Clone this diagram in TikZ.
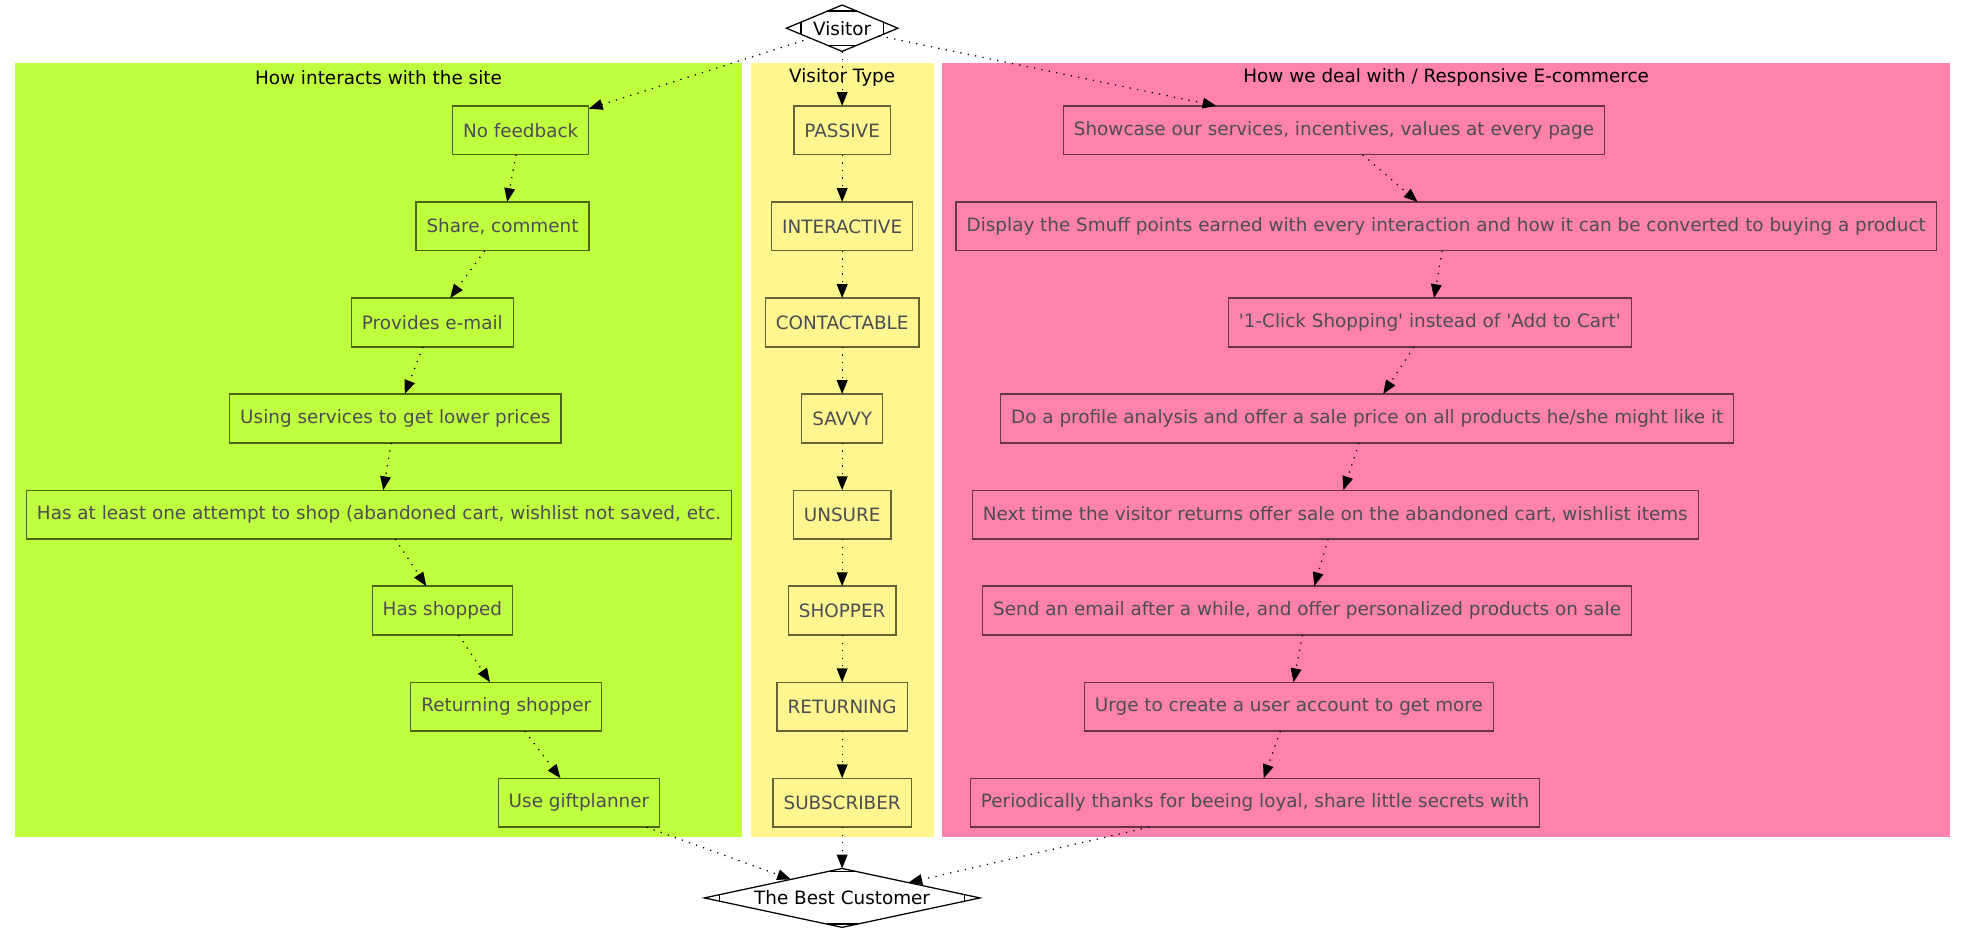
\documentclass[tikz,border=0pt]{standalone}
\usepackage{fontspec}
\setmainfont{DejaVu Sans}
\usetikzlibrary{shapes.geometric,arrows.meta,calc}

\begin{document}
\begin{tikzpicture}[x=0.75pt,y=0.75pt,yscale=-1,xscale=1,
  box/.style={draw, draw opacity=0.6, text={rgb, 255:red, 76; green, 76; blue, 84 }, line width=0.75pt, minimum height=29.25pt, inner xsep=6.3pt, inner ysep=0pt, outer sep=0pt, font=\fontsize{11}{12}\selectfont},
  mdiam/.style={draw, shape=diamond, inner sep=0pt, outer sep=0pt, line width=0.75pt, font=\fontsize{11}{12}\selectfont},
  lbl/.style={inner sep=0pt, font=\fontsize{11}{12}\selectfont},
  flow/.style={line width=0.75pt, dash pattern={on 0.75pt off 3.75pt}, -{Triangle[length=8.25pt,width=6.4pt]}}]
\useasboundingbox (0,0) rectangle (1568,750);

%Clusters
\fill [color={rgb, 255:red, 192; green, 255; blue, 62 }] (12,50) rectangle (592,668) ;
\fill [color={rgb, 255:red, 255; green, 246; blue, 143 }] (599,50) rectangle (745,668) ;
\fill [color={rgb, 255:red, 255; green, 130; blue, 171 }] (752,50) rectangle (1556,668) ;

% Cluster labels
\draw (302,62) node [lbl] (lblsite) {How interacts with the site};
\draw (672,62) node [lbl] (lbltype) {Visitor Type};
\draw (1154,62) node [lbl] (lbldeal) {How we deal with / Responsive E-commerce};

% Diamonds
\draw (672,22.5) node [mdiam, aspect=2.4, minimum width=66.75pt, minimum height=27.75pt] (visitor) {Visitor};
\draw (672,716.5) node [mdiam, aspect=4.68, minimum width=165pt, minimum height=35.25pt] (best) {The Best Customer};
\foreach \d in {visitor,best}{
  \draw [line width=0.75pt] ($(\d.north)!9.5pt!(\d.west)$) -- ($(\d.north)!9.5pt!(\d.east)$) ;
  \draw [line width=0.75pt] ($(\d.south)!9.5pt!(\d.west)$) -- ($(\d.south)!9.5pt!(\d.east)$) ;
  \draw [line width=0.75pt] ($(\d.west)!9.5pt!(\d.north)$) -- ($(\d.west)!9.5pt!(\d.south)$) ;
  \draw [line width=0.75pt] ($(\d.east)!9.5pt!(\d.north)$) -- ($(\d.east)!9.5pt!(\d.south)$) ;
}

% Text Node: site column
\draw (415.5,104) node [box] (nofeedback) {No feedback};
\draw (401,180.6) node [box] (share) {Share, comment};
\draw (345,257.3) node [box] (email) {Provides e-mail};
\draw (315.5,333.9) node [box] (services) {Using services to get lower prices};
\draw (302.5,410.6) node [box] (attempt) {Has at least one attempt to shop (abandoned cart, wishlist not saved, etc.};
\draw (353,487.2) node [box] (shopped) {Has shopped};
\draw (404,563.9) node [box] (retshopper) {Returning shopper};
\draw (462,640.5) node [box] (giftplanner) {Use giftplanner};

% Text Node: type column
\draw (672,104) node [box] (passive) {PASSIVE};
\draw (672,180.6) node [box] (interactive) {INTERACTIVE};
\draw (672,257.3) node [box] (contactable) {CONTACTABLE};
\draw (672,333.9) node [box] (savvy) {SAVVY};
\draw (672,410.6) node [box] (unsure) {UNSURE};
\draw (672,487.2) node [box] (shopper) {SHOPPER};
\draw (672,563.9) node [box] (returning) {RETURNING};
\draw (672,640.5) node [box] (subscriber) {SUBSCRIBER};

% Text Node: deal column
\draw (1064.5,104) node [box] (showcase) {Showcase our services, incentives, values at every page};
\draw (1154,180.6) node [box] (smuff) {Display the Smuff points earned with every interaction and how it can be converted to buying a product};
\draw (1141,257.3) node [box] (oneclick) {\textquotesingle 1-Click Shopping\textquotesingle{} instead of \textquotesingle Add to Cart\textquotesingle};
\draw (1091,333.9) node [box] (profile) {Do a profile analysis and offer a sale price on all products he/she might like it};
\draw (1065.5,410.6) node [box] (nexttime) {Next time the visitor returns offer sale on the abandoned cart, wishlist items};
\draw (1043,487.2) node [box] (sendmail) {Send an email after a while, and offer personalized products on sale};
\draw (1028.5,563.9) node [box] (account) {Urge to create a user account to get more};
\draw (1001.5,640.5) node [box] (loyal) {Periodically thanks for beeing loyal, share little secrets with};

% Edges
\draw [flow] (visitor) -- (nofeedback) ;
\draw [flow] (visitor) -- (passive) ;
\draw [flow] (visitor) -- (showcase) ;
\draw [flow] (nofeedback) -- (share) ;
\draw [flow] (share) -- (email) ;
\draw [flow] (email) -- (services) ;
\draw [flow] (services) -- (attempt) ;
\draw [flow] (attempt) -- (shopped) ;
\draw [flow] (shopped) -- (retshopper) ;
\draw [flow] (retshopper) -- (giftplanner) ;
\draw [flow] (passive) -- (interactive) ;
\draw [flow] (interactive) -- (contactable) ;
\draw [flow] (contactable) -- (savvy) ;
\draw [flow] (savvy) -- (unsure) ;
\draw [flow] (unsure) -- (shopper) ;
\draw [flow] (shopper) -- (returning) ;
\draw [flow] (returning) -- (subscriber) ;
\draw [flow] (showcase) -- (smuff) ;
\draw [flow] (smuff) -- (oneclick) ;
\draw [flow] (oneclick) -- (profile) ;
\draw [flow] (profile) -- (nexttime) ;
\draw [flow] (nexttime) -- (sendmail) ;
\draw [flow] (sendmail) -- (account) ;
\draw [flow] (account) -- (loyal) ;
\draw [flow] (giftplanner) -- (best) ;
\draw [flow] (subscriber) -- (best) ;
\draw [flow] (loyal) -- (best) ;

\end{tikzpicture}
\end{document}
